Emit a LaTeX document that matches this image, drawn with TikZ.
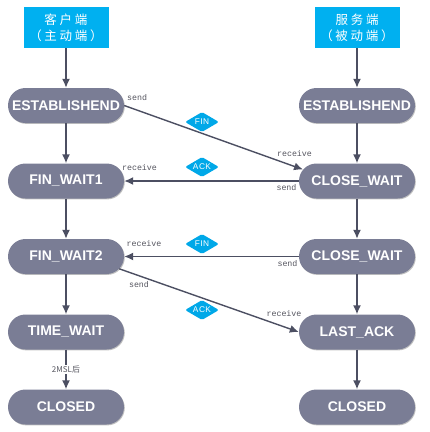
\documentclass[tikz,border=0pt]{standalone}
\usepackage{fontspec}
\setmainfont{Liberation Sans}
\newfontfamily\cjk{Noto Sans CJK SC}
\newfontfamily\cjkwide[LetterSpace=22]{Noto Sans CJK SC}
\newfontfamily\monof{Liberation Mono}
\newfontfamily\diafont[LetterSpace=6]{Liberation Sans}
\usetikzlibrary{shapes.misc,shapes.geometric,arrows.meta,shadows}
\definecolor{statefill}{RGB}{122,125,149}
\definecolor{linecol}{RGB}{76,79,98}
\definecolor{headcyan}{RGB}{0,176,240}
\definecolor{diacyan}{RGB}{0,168,232}
\definecolor{labgrey}{RGB}{85,85,95}
\tikzset{
  state/.style={rounded rectangle, fill=statefill, text=white,
    minimum width=116pt, minimum height=35pt, inner sep=0pt,
    font=\fontsize{14}{16}\selectfont\bfseries,
    drop shadow={shadow xshift=0.8pt, shadow yshift=-0.9pt, opacity=0.35, fill=black!70}},
  header/.style={rectangle, fill=headcyan, text=white, minimum width=85pt,
    minimum height=41pt, inner sep=0pt, align=center,
    font=\cjkwide\fontsize{12.5}{16}\selectfont},
  msg/.style={diamond, fill=diacyan, text=white, minimum width=34pt,
    minimum height=20pt, inner sep=0pt, aspect=1.7, rounded corners=1.5pt,
    font=\diafont\fontsize{8.3}{9}\selectfont},
  lab/.style={text=labgrey, inner sep=0pt, font=\monof\fontsize{8.3}{9}\selectfont},
  conn/.style={draw=linecol, line width=1.4pt, -{Latex[length=9pt,width=8pt]}}
}
\begin{document}
\begin{tikzpicture}[x=1pt,y=-1pt]
\useasboundingbox (0,0) rectangle (430,432);
% headers
\node[header] (hc) at (66,27.5) {客户端\\（主动端）};
\node[header] (hs) at (357,27.5) {服务端\\（被动端）};
% states left
\node[state] (el) at (66,105.5) {ESTABLISHEND};
\node[state] (fw1) at (66,181) {FIN\_WAIT1};
\node[state] (fw2) at (66,256.5) {FIN\_WAIT2};
\node[state] (tw) at (66,332) {TIME\_WAIT};
\node[state] (cl) at (66,407) {CLOSED};
% states right
\node[state] (er) at (357,105.5) {ESTABLISHEND};
\node[state] (cw1) at (357,181) {CLOSE\_WAIT};
\node[state] (cw2) at (357,256.5) {CLOSE\_WAIT};
\node[state] (la) at (357,332) {LAST\_ACK};
\node[state] (cr) at (357,407) {CLOSED};
% vertical connectors
\draw[conn] (hc.south) -- (el.north);
\draw[conn] (el.south) -- (fw1.north);
\draw[conn] (fw1.south) -- (fw2.north);
\draw[conn] (fw2.south) -- (tw.north);
\draw[conn] (tw.south) -- node[fill=white, inner sep=1.2pt, text=labgrey, font=\cjk\fontsize{8}{9}\selectfont] (msl) {2MSL后} (cl.north);
\draw[conn] (hs.south) -- (er.north);
\draw[conn] (er.south) -- (cw1.north);
\draw[conn] (cw1.south) -- (cw2.north);
\draw[conn] (cw2.south) -- (la.north);
\draw[conn] (la.south) -- (cr.north);
% messages
\draw[conn] (el.east) -- (cw1.168);
\draw[conn] (cw1.west) -- (fw1.east);
\draw[conn] (cw2.west) -- (fw2.east);
\draw[conn] (fw2.-13) -- (la.west);
% diamonds
\node[msg] (d1) at (202,122) {FIN};
\node[msg] (d2) at (202,167) {ACK};
\node[msg] (d3) at (202,244) {FIN};
\node[msg] (d4) at (202,310) {ACK};
% labels
\node[lab, anchor=west] (s1) at (127,98) {send};
\node[lab] (r1) at (294.5,154) {receive};
\node[lab] (r2) at (139.5,168) {receive};
\node[lab] (s2) at (286.5,188) {send};
\node[lab] (r3) at (144,244) {receive};
\node[lab] (s3) at (287.5,263.5) {send};
\node[lab] (s4) at (139,285) {send};
\node[lab] (r4) at (284,314) {receive};
\end{tikzpicture}
\end{document}
